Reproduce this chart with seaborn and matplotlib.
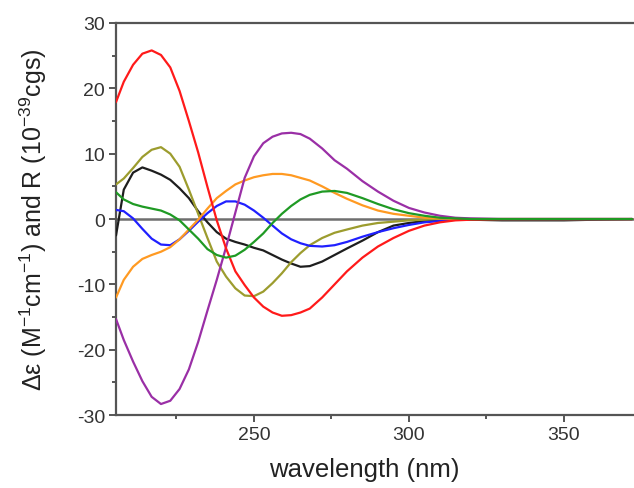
import matplotlib
matplotlib.use("Agg")
import matplotlib.pyplot as plt
import numpy as np
import pandas as pd
import seaborn as sns

# wavelength grid (nm) shared by all curves
wavelength = [205.5, 208, 211, 214, 217, 220, 223, 226, 229, 232, 235, 238,
              241, 244, 247, 250, 253, 256, 259, 262, 265, 268, 272, 276,
              280, 285, 290, 295, 300, 305, 310, 315, 320, 330, 340, 350,
              360, 372]

red = [17.9, 21.0, 23.6, 25.3, 25.8, 25.1, 23.2, 19.6, 15.0, 10.2, 4.9, -0.2,
       -4.5, -8.0, -10.1, -12.0, -13.4, -14.3, -14.8, -14.7, -14.3, -13.7,
       -12.0, -10.0, -8.0, -5.9, -4.2, -2.9, -1.8, -1.0, -0.5, -0.2, -0.1,
       0.0, 0.0, 0.0, 0.0, 0.0]

purple = [-15.3, -18.5, -21.8, -24.8, -27.2, -28.3, -27.8, -26.0, -23.0,
          -18.8, -14.0, -9.3, -4.3, 1.0, 6.3, 9.6, 11.6, 12.6, 13.1, 13.2,
          13.0, 12.3, 10.8, 9.0, 7.7, 5.8, 4.2, 2.8, 1.7, 1.0, 0.5, 0.2, 0.1,
          0.0, 0.0, 0.0, 0.0, 0.0]

orange = [-12.0, -9.3, -7.3, -6.1, -5.5, -5.0, -4.3, -3.1, -1.6, -0.1, 1.6,
          3.2, 4.3, 5.3, 5.9, 6.4, 6.7, 6.9, 6.9, 6.7, 6.3, 5.9, 5.0, 4.0,
          3.1, 2.1, 1.3, 0.8, 0.5, 0.2, 0.1, 0.0, 0.0, 0.0, 0.0, 0.0, 0.0,
          0.0]

green = [4.1, 3.0, 2.3, 1.9, 1.6, 1.3, 0.7, -0.2, -1.6, -3.0, -4.6, -5.5,
         -5.9, -5.6, -4.7, -3.5, -2.2, -0.6, 0.8, 2.0, 3.0, 3.7, 4.2, 4.3,
         4.0, 3.2, 2.3, 1.5, 0.9, 0.5, 0.2, 0.1, 0.0, 0.0, 0.0, 0.0, 0.0,
         0.0]

blue = [1.4, 1.2, 0.1, -1.5, -3.0, -3.9, -4.0, -3.1, -1.8, -0.4, 0.9, 2.0,
        2.7, 2.7, 2.2, 1.3, 0.2, -1.0, -2.2, -3.1, -3.7, -4.1, -4.2, -4.0,
        -3.5, -2.7, -2.0, -1.4, -0.9, -0.5, -0.3, -0.1, 0.0, 0.0, 0.0, 0.0,
        0.0, 0.0]

olive = [5.3, 6.2, 7.8, 9.5, 10.6, 11.0, 10.0, 8.0, 4.5, 0.8, -2.9, -6.5,
         -8.8, -10.6, -11.7, -11.8, -11.1, -9.8, -8.3, -6.6, -5.2, -4.0,
         -2.9, -2.1, -1.6, -1.0, -0.6, -0.4, -0.2, -0.1, 0.0, 0.0, 0.0, 0.0,
         0.0, 0.0, 0.0, 0.0]

black = [-2.5, 4.5, 7.1, 7.9, 7.4, 6.8, 6.0, 4.7, 3.2, 1.2, -0.5, -2.0, -3.0,
         -3.5, -3.9, -4.4, -4.8, -5.5, -6.2, -6.8, -7.3, -7.2, -6.5, -5.5,
         -4.5, -3.3, -2.0, -1.0, -0.6, -0.3, -0.2, -0.1, -0.1, -0.2, -0.2,
         -0.2, -0.1, 0.0]

series = {
    "black": (black, "#1e1e1e"),
    "olive": (olive, "#9c9c2e"),
    "blue": (blue, "#2020ff"),
    "orange": (orange, "#ff9a22"),
    "purple": (purple, "#9a2fa6"),
    "red": (red, "#ff1a1a"),
    "green": (green, "#1f9a24"),
}

sns.set_style("ticks")
plt.rcParams["font.family"] = ["Liberation Sans", "DejaVu Sans"]
plt.rcParams["axes.unicode_minus"] = False
plt.rcParams["mathtext.fontset"] = "custom"
plt.rcParams["mathtext.rm"] = "Liberation Sans"
plt.rcParams["mathtext.it"] = "Liberation Sans:italic"

fig = plt.figure(figsize=(6.34, 4.89), dpi=100)
ax = fig.add_axes([0.183, 0.149, 0.817, 0.802])

ax.axhline(0, color="#6e6e6e", lw=1.8, zorder=1)

for name, (vals, col) in series.items():
    sns.lineplot(x=wavelength, y=vals, color=col, lw=1.6, ax=ax, zorder=3)

ax.set_xlim(205.5, 372.6)
ax.set_ylim(-30, 30)
ax.set_xticks([250, 300, 350])
ax.set_xticks([225, 275, 325], minor=True)
ax.set_yticks([-30, -20, -10, 0, 10, 20, 30])
ax.set_yticks([-25, -15, -5, 5, 15, 25], minor=True)

ax.spines["right"].set_visible(False)
for s in ["left", "bottom", "top"]:
    ax.spines[s].set_color("#555555")
    ax.spines[s].set_linewidth(1.6)

ax.tick_params(axis="both", which="major", direction="out", length=5,
               width=1.4, color="#555555", labelsize=14, labelcolor="#333333",
               pad=3)
ax.tick_params(axis="both", which="minor", direction="out", length=3,
               width=1.4, color="#555555")

ax.set_xlabel("wavelength (nm)", fontsize=18.5, color="#222222")
ax.set_ylabel("Δε (M$^{-1}$cm$^{-1}$) and R (10$^{-39}$cgs)",
              fontsize=18, color="#222222")
ax.xaxis.set_label_coords(0.48, -0.108)
ax.yaxis.set_label_coords(-0.13, 0.5)

fig.savefig("out.png", dpi=100)
